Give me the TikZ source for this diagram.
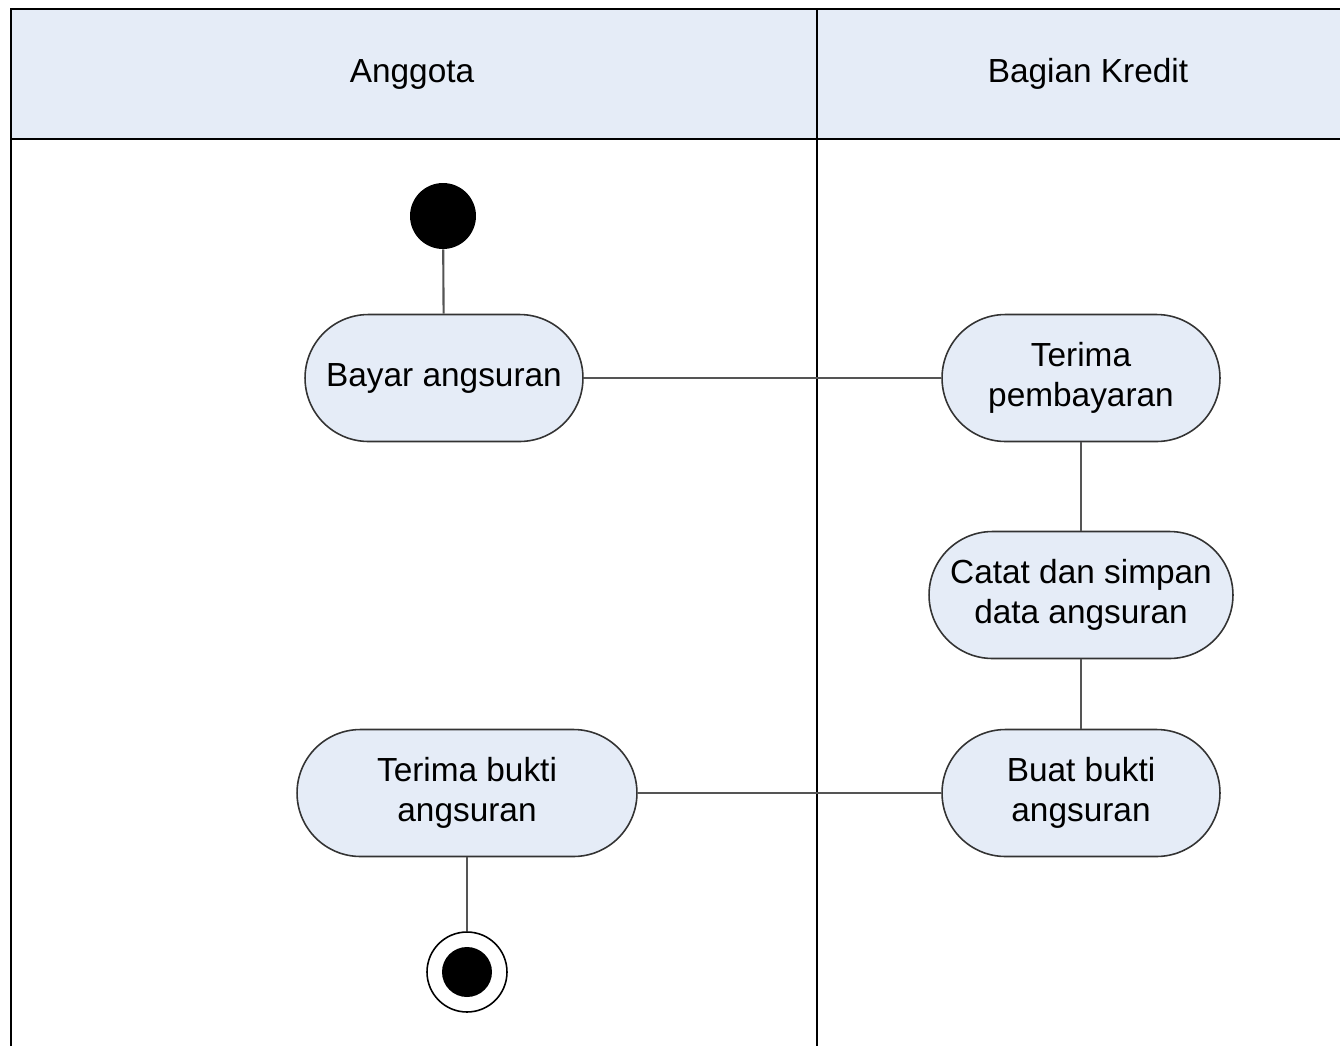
\documentclass[tikz,border=0pt]{standalone}
\usepackage{fontspec}
\setmainfont{Liberation Sans}
\usepackage{tikz}
\definecolor{lanefill}{RGB}{229,236,247}
\definecolor{linegray}{RGB}{85,85,85}
\tikzstyle{activity} = [rectangle, rounded corners=1.27cm, minimum width=5.56cm, minimum height=2.54cm, text centered, align=center, draw=black!80, line width=0.9pt, fill=lanefill, font=\fontsize{19}{23}\selectfont]
\tikzstyle{lanetitle} = [font=\fontsize{19}{23}\selectfont]
\tikzstyle{startnode} = [circle, fill=black, minimum size=1.32cm, inner sep=0pt]
\tikzstyle{endouter} = [circle, draw=black, line width=0.9pt, fill=white, minimum size=1.6cm, inner sep=0pt]
\tikzstyle{endinner} = [circle, fill=black, minimum size=1.0cm, inner sep=0pt]
\tikzstyle{flow} = [linegray, line width=1.2pt]

\begin{document}
\begin{tikzpicture}[x=0.02cm, y=-0.02cm]
\useasboundingbox (0,0) rectangle (1340,1046);

% Lanes
\fill [lanefill] (11,9) rectangle (1340,139);
\draw [line width=1pt] (11,1046) -- (11,9) -- (1340,9);
\draw [line width=1pt] (11,139) -- (1340,139);
\draw [line width=0.8pt] (817,9) -- (817,1046);
\node (anggota) [lanetitle] at (412,74) {Anggota};
\node (kredit) [lanetitle] at (1088,74) {Bagian Kredit};

% Nodes
\node (start) [startnode] at (443,216) {};
\node (bayar) [activity] at (444,378) {Bayar angsuran};
\node (terimabayar) [activity] at (1081,378) {Terima\\pembayaran};
\node (catat) [activity, minimum width=6.08cm] at (1081,595) {Catat dan simpan\\data angsuran};
\node (buatbukti) [activity] at (1081,793) {Buat bukti\\angsuran};
\node (terimabukti) [activity, minimum width=6.8cm] at (467,793) {Terima bukti\\angsuran};
\node (finish) [endouter] at (467,972) {};
\node (finishdot) [endinner] at (finish) {};

% Lines
\draw [flow] (start) -- (bayar);
\draw [flow] (bayar) -- (terimabayar);
\draw [flow] (terimabayar) -- (catat);
\draw [flow] (catat) -- (buatbukti);
\draw [flow] (buatbukti) -- (terimabukti);
\draw [flow] (terimabukti) -- (finish);

\end{tikzpicture}
\end{document}
